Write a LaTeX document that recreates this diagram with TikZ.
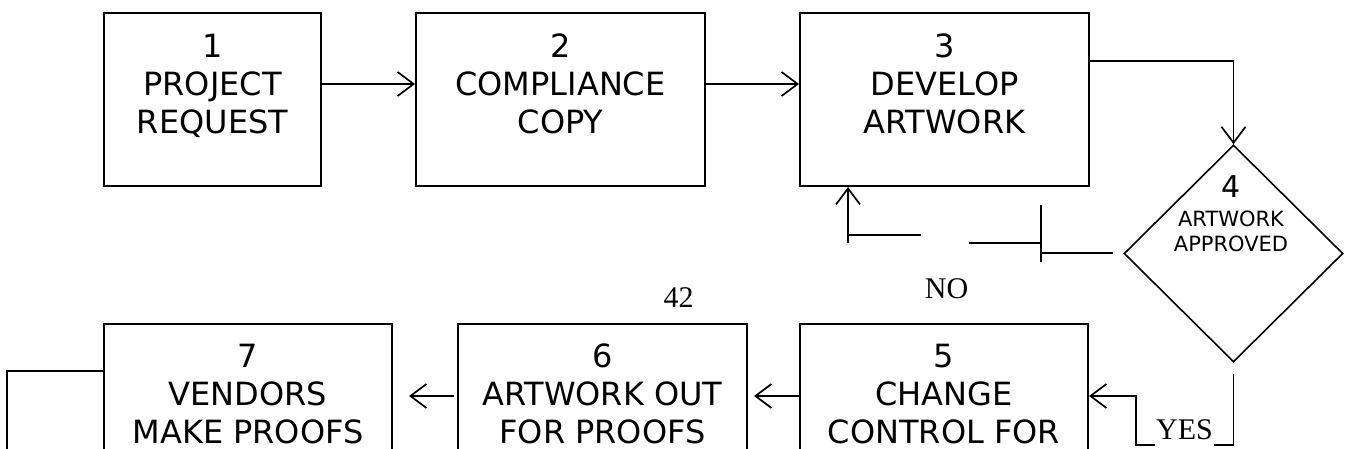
\documentclass[tikz,border=0pt]{standalone}
\usepackage{fontspec}
\newfontfamily\boxfont{DejaVu Sans}
\newfontfamily\serfont{Liberation Serif}
\usetikzlibrary{shapes.geometric,arrows.meta}
\begin{document}
\begin{tikzpicture}[x=1pt,y=-1pt,
  box/.style={draw,rectangle,line width=2pt,inner sep=0pt,minimum height=173pt},
  dia/.style={draw,diamond,line width=1.6pt,inner sep=0pt,minimum width=219pt,minimum height=217pt},
  boxtext/.style={font={\boxfont\fontsize{32}{38}\selectfont},align=center,anchor=north,inner sep=0pt},
  smalltext/.style={font={\boxfont\fontsize{21}{25}\selectfont},align=center,anchor=north,inner sep=0pt},
  numtext/.style={font={\boxfont\fontsize{30}{36}\selectfont},anchor=base,inner sep=0pt},
  sertext/.style={font={\serfont\fontsize{30}{36}\selectfont},anchor=base,inner sep=0pt},
  conn/.style={line width=1.7pt},
  arr/.style={-{Straight Barb[length=16pt,width=24pt]}}
]
\useasboundingbox (0,0) rectangle (1346,449);
\clip (0,0) rectangle (1346,449);

% top row
\node[box,minimum width=217pt] (b1) at (212.5,99.5) {};
\node[box,minimum width=289pt] (b2) at (560.5,99.5) {};
\node[box,minimum width=289pt] (b3) at (944.5,99.5) {};
\node[boxtext] (t1) at (212.5,33.7) {1\\PROJECT\\REQUEST};
\node[boxtext] (t2) at (560.5,33.7) {2\\COMPLIANCE\\COPY};
\node[boxtext] (t3) at (944.5,33.7) {3\\DEVELOP\\ARTWORK};

% decision
\node[dia] (d4) at (1233.5,253.5) {};
\node[numtext] (t4n) at (1231,198) {4};
\node[smalltext] (t4) at (1231,210.7) {ARTWORK\\APPROVED};

% bottom row
\node[box,minimum width=288pt] (b7) at (248,410.5) {};
\node[box,minimum width=289pt] (b6) at (602.5,410.5) {};
\node[box,minimum width=288pt] (b5) at (944,410.5) {};
\node[boxtext] (t7) at (248,343.7) {7\\VENDORS\\MAKE PROOFS};
\node[boxtext] (t6) at (602.5,343.7) {6\\ARTWORK OUT\\FOR PROOFS};
\node[boxtext] (t5) at (944,343.7) {5\\CHANGE\\CONTROL FOR};

% labels
\node[sertext] (no) at (946.5,298) {NO};
\node[sertext] (n42) at (678.5,307) {42};

% connectors top row
\draw[conn,arr] ([yshift=15.5pt]b1.east) -- ([yshift=15.5pt]b2.west);
\draw[conn,arr] ([yshift=15.5pt]b2.east) -- ([yshift=15.5pt]b3.west);
\draw[conn,arr] ([yshift=38.5pt]b3.east) -| (d4.north);

% NO feedback (broken connector)
\coordinate (n1) at (1113,253);
\coordinate (n2) at (1041,253);
\coordinate (n3) at (1041,205);
\coordinate (n4) at (1041,262);
\coordinate (n5) at (1041,243);
\coordinate (n6) at (969,243);
\coordinate (n7) at (921,235);
\coordinate (n8) at (848,235);
\coordinate (n9) at (848,243);
\draw[conn] (n1) -- (n2);
\draw[conn] (n3) -- (n4);
\draw[conn] (n5) -- (n6);
\draw[conn] (n7) -- (n8);
\draw[conn,arr] (n9) -- (n9 |- b3.south);

% YES branch
\coordinate (y1) at ([yshift=-11pt]d4.south);
\coordinate (y3) at (1136,445);
\coordinate (y4) at (1136,396);
\draw[conn,arr] (y1) -- (y1 |- y3) -- (y3) -- (y4) -- (y4 -| b5.east);
\node[sertext,fill=white,inner sep=1pt,text depth=7pt] (yes) at (1184.5,439) {YES};

% bottom row connectors
\draw[conn,arr] ([yshift=14.5pt]b5.west) -- ([xshift=6pt,yshift=14.5pt]b6.east);
\draw[conn,arr] ([xshift=-3pt,yshift=14.5pt]b6.west) -- ([xshift=16pt,yshift=14.5pt]b7.east);
\coordinate (l1) at (7,371);
\coordinate (l2) at (7,470);
\draw[conn] ([yshift=39.5pt]b7.west) -- (l1) -- (l2);
\end{tikzpicture}
\end{document}
